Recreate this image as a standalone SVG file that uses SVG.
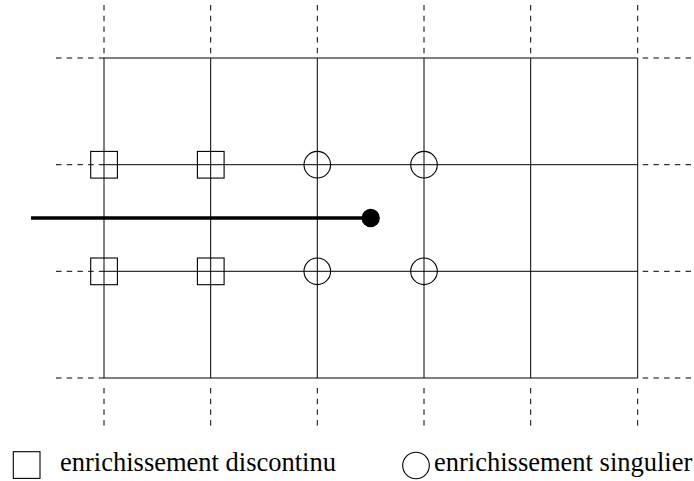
<svg xmlns="http://www.w3.org/2000/svg" width="694" height="481" viewBox="0 0 694 481">
  <style>
    .grid { stroke: #000; stroke-width: 1; fill: none; }
    .ext { stroke: #000; stroke-width: 1; fill: none; stroke-dasharray: 5.5 5.2; }
    .mark { stroke: #000; stroke-width: 1.1; fill: none; }
    .crack { stroke: #000; stroke-width: 3.6; fill: none; }
    .label { font-size: 26.5px; fill: #000; }
  </style>
  <rect width="694" height="481" fill="#fff"/>

  <!-- mesh extensions (dashed) -->
  <g id="mesh-extensions">
    <path class="ext" d="M104,5 V58 M210.7,5 V58 M317.3,5 V58 M424,5 V58 M530.7,5 V58 M637.7,5 V58"/>
    <path class="ext" d="M104,388 V428 M210.7,388 V428 M317.3,388 V428 M424,388 V428 M530.7,388 V428 M637.7,388 V428"/>
    <path class="ext" d="M56,58 H104 M56,164.7 H104 M56,271.3 H104 M56,378 H104"/>
    <path class="ext" d="M642.7,58 H694 M642.7,164.7 H694 M642.7,271.3 H694 M642.7,378 H694"/>
  </g>

  <!-- structured mesh -->
  <g id="mesh">
    <path class="grid" d="M104,58 V378 M210.7,58 V378 M317.3,58 V378 M424,58 V378 M530.7,58 V378 M637.7,58 V378"/>
    <path class="grid" d="M104,58 H637.7 M104,164.7 H637.7 M104,271.3 H637.7 M104,378 H637.7"/>
  </g>

  <!-- crack with tip -->
  <g id="crack">
    <line class="crack" x1="31" y1="218" x2="371" y2="218"/>
    <circle cx="370.7" cy="218" r="9.2" fill="#000"/>
  </g>

  <!-- discontinuous enrichment nodes -->
  <g id="node-heaviside-1"><rect class="mark" x="90.7" y="151.4" width="26.7" height="26.7"/></g>
  <g id="node-heaviside-2"><rect class="mark" x="197.4" y="151.4" width="26.7" height="26.7"/></g>
  <g id="node-heaviside-3"><rect class="mark" x="90.7" y="258" width="26.7" height="26.7"/></g>
  <g id="node-heaviside-4"><rect class="mark" x="197.4" y="258" width="26.7" height="26.7"/></g>

  <!-- singular enrichment nodes -->
  <g id="node-tip-1"><circle class="mark" cx="317.3" cy="164.7" r="13.3"/></g>
  <g id="node-tip-2"><circle class="mark" cx="424" cy="164.7" r="13.3"/></g>
  <g id="node-tip-3"><circle class="mark" cx="317.3" cy="271.3" r="13.3"/></g>
  <g id="node-tip-4"><circle class="mark" cx="424" cy="271.3" r="13.3"/></g>

  <!-- legend -->
  <g id="legend-discontinu">
    <rect class="mark" x="13.3" y="451.7" width="26.7" height="26.7"/>
    <text class="label" font-family="'Liberation Serif', 'Times New Roman', serif" x="60" y="471">enrichissement discontinu</text>
  </g>
  <g id="legend-singulier">
    <circle class="mark" cx="416" cy="465.5" r="13.3"/>
    <text class="label" font-family="'Liberation Serif', 'Times New Roman', serif" x="434" y="471">enrichissement singulier</text>
  </g>
</svg>
